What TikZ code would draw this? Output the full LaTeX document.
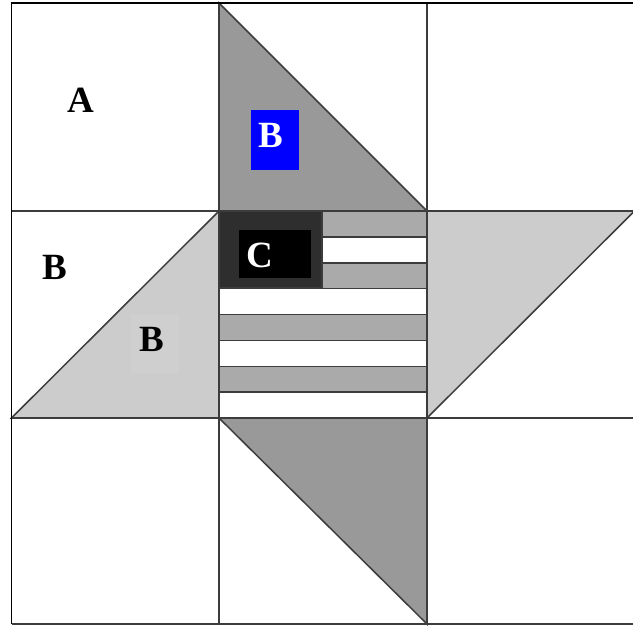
\documentclass[tikz,border=0pt]{standalone}
\usepackage{fontspec}
\setmainfont{Liberation Serif}
\definecolor{quiltdark}{RGB}{153,153,153}
\definecolor{quiltlight}{RGB}{204,204,204}
\definecolor{stripegray}{RGB}{170,170,170}
\definecolor{cantongray}{RGB}{46,46,46}
\definecolor{seamgray}{RGB}{60,60,60}
\definecolor{labelgray}{RGB}{207,207,207}
\tikzset{
  seam/.style={draw=seamgray, line width=1.5pt},
  darkpatch/.style={seam, fill=quiltdark},
  lightpatch/.style={seam, fill=quiltlight},
  letter/.style={font=\fontsize{37}{37}\selectfont\bfseries, inner sep=0pt},
  labelbox/.style={rectangle, inner sep=0pt, minimum width=48pt}
}

\begin{document}
\begin{tikzpicture}[x=1pt,y=-1pt]
  \useasboundingbox (0,0) rectangle (633,625);
  \fill[white] (0,0) rectangle (633,625);
  % star points
  \draw[darkpatch] (219,3) -- (219,211) -- (427,211) -- cycle;
  \draw[darkpatch] (219,418) -- (427,418) -- (427,624) -- cycle;
  \draw[lightpatch] (11.5,418) -- (219,211) -- (219,418) -- cycle;
  \draw[lightpatch] (427,211) -- (634.5,211) -- (427,418) -- cycle;
  % stripes
  \foreach \i/\c in {0/stripegray, 1/white, 2/stripegray, 3/white,
                     4/stripegray, 5/white, 6/stripegray, 7/white} {
    \draw[seam, fill=\c] (219,211+\i*25.875) rectangle (427,211+\i*25.875+25.875);
  }
  % canton
  \draw[seam, fill=cantongray] (219,211) rectangle (322,288);
  \node[labelbox, fill=black, minimum width=72pt, minimum height=48pt] (cbox) at (275,254) {};
  \node[letter, text=white] (clabel) at (260,255.5) {C};
  % grid
  \foreach \x in {219,427}
    \draw[seam] (\x,3) -- (\x,624);
  \foreach \y in {211,418,624}
    \draw[seam] (11.5,\y) -- (634.5,\y);
  \draw[black, line width=1.6pt] (11.5,624) -- (11.5,3) -- (634.5,3);
  % labels
  \node[letter] (alabel) at (80.5,100) {A};
  \node[letter] (bleft) at (55,267.5) {B};
  \node[labelbox, fill=blue, minimum height=60pt] (bluebox) at (275,140) {};
  \node[letter, text=white] (btop) at (271,135) {B};
  \node[labelbox, fill=labelgray, minimum height=59pt] (graybox) at (155,343.5) {};
  \node[letter] (bgray) at (151.5,339.5) {B};
\end{tikzpicture}
\end{document}
